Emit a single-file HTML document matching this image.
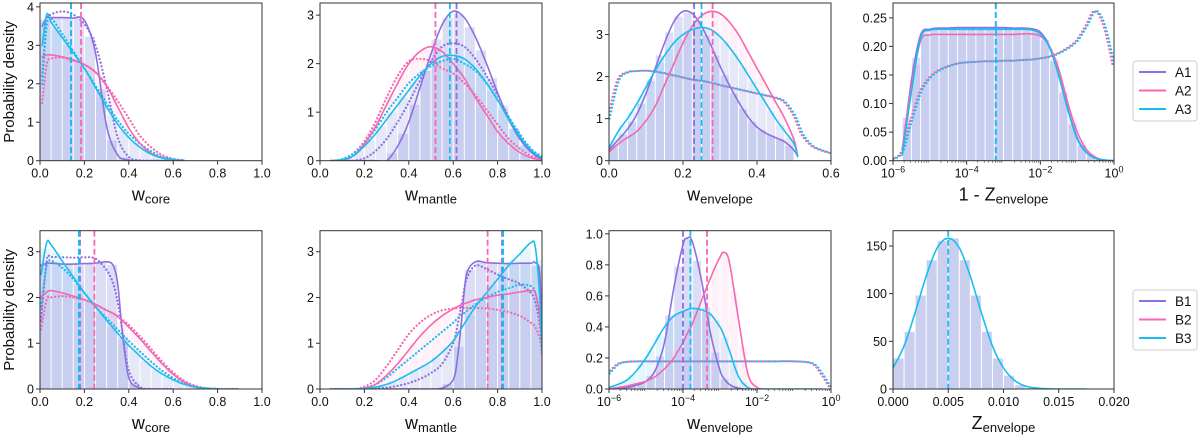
<!DOCTYPE html>
<html><head><meta charset="utf-8"><style>
body{margin:0;background:#fff}
svg{display:block;font-family:"Liberation Sans","DejaVu Sans",sans-serif}
</style></head><body>
<svg id="chart" width="1200" height="437" viewBox="0 0 1200 437" xmlns="http://www.w3.org/2000/svg"></svg>
<script>
const C1='#8f6fe0', C2='#f766b0', C3='#17bef0';
// ---- top row panel 1: w_core
const p1x=[0.01,0.03,0.05,0.1,0.15,0.2,0.25,0.3,0.35,0.4,0.45,0.5,0.55,0.6,0.65];
const p1A1=[3.5,3.72,3.72,3.72,3.71,3.65,2.8,0.9,0.15,0.02,0,0,0,0,0];
const p1A1d=[2.2,3.6,3.8,3.88,3.8,3.55,3.0,1.9,0.6,0.1,0.01,0,0,0,0];
const p1A2=[2.7,2.75,2.75,2.7,2.62,2.5,2.3,1.95,1.4,0.85,0.45,0.2,0.08,0.02,0];
const p1A2d=[1.5,2.5,2.65,2.68,2.6,2.5,2.3,1.95,1.55,1.1,0.65,0.35,0.15,0.05,0.01];
const p1A3=[3.0,3.8,3.6,3.2,2.8,2.4,1.9,1.4,0.95,0.6,0.35,0.17,0.07,0.02,0];
const p1A3d=[2.0,3.5,3.7,3.3,2.85,2.4,1.95,1.5,1.05,0.7,0.45,0.25,0.1,0.04,0.01];
const p1Mean=[0.14,0.185,0.14];
// ---- top row panel 2: w_mantle
const p2x=[0.05,0.1,0.15,0.2,0.25,0.3,0.35,0.4,0.45,0.5,0.55,0.6,0.65,0.7,0.75,0.8,0.85,0.9,0.95,1.0];
const p2A1=[0,0,0,0,0,0,0.3,0.8,1.5,2.2,2.8,3.08,2.95,2.55,2.0,1.4,0.85,0.45,0.18,0.02];
const p2A1d=[0,0,0,0.05,0.2,0.45,0.8,1.2,1.65,2.05,2.35,2.42,2.35,2.1,1.75,1.35,0.9,0.5,0.2,0.05];
const p2A2=[0,0,0.1,0.35,0.7,1.15,1.6,2.0,2.25,2.35,2.25,2.0,1.7,1.3,0.95,0.6,0.35,0.17,0.06,0.01];
const p2A2d=[0,0.03,0.15,0.4,0.8,1.3,1.75,2.05,2.1,2.05,1.9,1.8,1.6,1.35,1.05,0.75,0.45,0.25,0.1,0.03];
const p2A3=[0,0.02,0.1,0.3,0.55,0.85,1.15,1.45,1.75,2.0,2.15,2.17,2.1,1.9,1.6,1.25,0.85,0.5,0.22,0.05];
const p2A3d=[0,0.03,0.15,0.35,0.65,1.0,1.3,1.6,1.8,1.95,2.05,2.1,2.0,1.85,1.6,1.25,0.9,0.55,0.25,0.08];
const p2Mean=[0.615,0.52,0.585];
// ---- top row panel 3: w_envelope
const p3x=[0,0.025,0.05,0.075,0.1,0.125,0.15,0.175,0.2,0.225,0.25,0.275,0.3,0.325,0.35,0.375,0.4,0.425,0.45,0.475,0.5,0.51,0.525,0.55,0.575,0.6];
const p3A1=[0.25,0.5,0.75,1.1,1.6,2.2,2.8,3.3,3.55,3.5,3.2,2.75,2.25,1.8,1.4,1.05,0.8,0.65,0.55,0.45,0.25,0.1,null,null,null,null];
const p3A2=[0.2,0.4,0.55,0.7,0.95,1.3,1.8,2.3,2.8,3.2,3.45,3.55,3.5,3.3,3.0,2.6,2.2,1.8,1.4,1.0,0.5,0.1,null,null,null,null];
const p3A3=[0.3,0.7,1.0,1.35,1.75,2.15,2.5,2.8,3.0,3.12,3.17,3.12,2.95,2.7,2.4,2.05,1.7,1.35,1.0,0.7,0.4,0.1,null,null,null,null];
const p3Prior=[1.0,1.9,2.1,2.13,2.14,2.12,2.08,2.03,1.98,1.93,1.9,1.86,1.8,1.75,1.7,1.65,1.6,1.55,1.5,1.4,1.1,0.9,0.6,0.35,0.25,0.18];
const p3Mean=[0.23,0.28,0.25];
// ---- top row panel 4: 1 - Z_envelope (log10 x)
const p4x=[-6,-5.75,-5.5,-5.25,-5,-4.75,-4.5,-4.25,-4,-3.75,-3.5,-3.25,-3,-2.75,-2.5,-2.25,-2,-1.75,-1.5,-1.25,-1,-0.75,-0.5,-0.25,0];
const p4A1=[null,0.01,0.14,0.22,0.23,0.232,0.232,0.233,0.233,0.233,0.233,0.233,0.233,0.232,0.232,0.231,0.225,0.2,0.15,0.09,0.04,0.015,0.004,0.001,0];
const p4A2=[null,0.02,0.13,0.21,0.22,0.221,0.221,0.221,0.221,0.221,0.221,0.221,0.221,0.221,0.222,0.222,0.218,0.2,0.16,0.1,0.05,0.02,0.006,0.001,0];
const p4A3=[null,0.01,0.12,0.215,0.228,0.23,0.23,0.23,0.23,0.23,0.23,0.23,0.23,0.23,0.23,0.229,0.222,0.198,0.148,0.088,0.038,0.014,0.004,0.001,0];
const p4Prior=[0.003,0.015,0.07,0.12,0.145,0.158,0.165,0.17,0.172,0.173,0.174,0.174,0.175,0.175,0.176,0.177,0.179,0.182,0.188,0.197,0.21,0.235,0.262,0.235,0.165];
const p4Mean=[-3.21,-3.21,-3.21];
// ---- bottom row panel 1: w_core
const q1x=[0.005,0.03,0.05,0.1,0.15,0.2,0.25,0.3,0.33,0.35,0.37,0.4,0.45,0.5,0.55,0.6,0.65,0.7,0.75,0.8,0.85,0.9];
const q1B1=[2.7,2.75,2.75,2.73,2.73,2.74,2.75,2.78,2.7,2.3,1.3,0.25,0.02,0,0,0,null,null,null,null,null,null];
const q1B1d=[1.5,2.8,2.88,2.88,2.87,2.88,2.85,2.6,2.3,1.9,1.3,0.4,0.05,0,0,0,null,null,null,null,null,null];
const q1B2=[2.0,2.12,2.15,2.1,2.03,1.95,1.85,1.72,1.65,1.58,1.5,1.35,1.1,0.82,0.55,0.32,0.15,0.05,0.01,0,null,null];
const q1B2d=[1.3,1.95,2.0,2.03,2.0,1.95,1.85,1.72,1.65,1.6,1.52,1.4,1.15,0.88,0.6,0.36,0.18,0.07,0.02,0.005,0,0];
const q1B3=[2.5,3.2,3.15,2.8,2.45,2.1,1.8,1.5,1.33,1.22,1.1,0.95,0.72,0.5,0.33,0.2,0.1,0.04,0.01,0,null,null];
const q1B3d=[1.8,2.7,2.8,2.65,2.4,2.1,1.8,1.55,1.4,1.3,1.2,1.05,0.82,0.6,0.4,0.24,0.12,0.05,0.015,0.003,0,0];
const q1Mean=[0.18,0.245,0.175];
// ---- bottom row panel 2: w_mantle
const q2x=[0.05,0.1,0.15,0.2,0.25,0.3,0.35,0.4,0.45,0.5,0.55,0.6,0.62,0.64,0.66,0.7,0.75,0.8,0.85,0.9,0.95,0.97,0.99,1.0];
const q2B1=[0,0,0,0,0,0,0,0,0,0,0.02,0.2,0.7,1.6,2.5,2.78,2.76,2.75,2.74,2.75,2.75,2.76,2.5,0.9];
const q2B1d=[0,0,0,0,0.01,0.03,0.07,0.13,0.22,0.35,0.55,1.0,1.4,1.9,2.4,2.7,2.62,2.5,2.4,2.3,2.1,1.9,1.4,0.9];
const q2B2=[0,0,0,0.02,0.1,0.3,0.55,0.85,1.15,1.4,1.6,1.75,1.8,1.85,1.88,1.95,2.0,2.05,2.08,2.12,2.15,2.1,1.6,1.0];
const q2B2d=[0,0,0,0.05,0.2,0.5,0.85,1.2,1.45,1.62,1.72,1.76,1.77,1.77,1.77,1.77,1.76,1.73,1.68,1.6,1.45,1.35,1.1,0.75];
const q2B3=[0,0,0,0.01,0.04,0.1,0.2,0.33,0.46,0.6,0.8,1.05,1.2,1.35,1.5,1.8,2.1,2.4,2.7,2.95,3.2,3.1,2.0,0.8];
const q2B3d=[0,0,0,0.02,0.1,0.25,0.45,0.65,0.85,1.05,1.25,1.45,1.55,1.62,1.7,1.85,2.0,2.12,2.2,2.28,2.25,2.1,1.6,1.0];
const q2Mean=[0.82,0.755,0.825];
// ---- bottom row panel 3: w_envelope (log10 x)
const q3x=[-6,-5.75,-5.5,-5.25,-5,-4.75,-4.5,-4.25,-4,-3.9,-3.75,-3.5,-3.25,-3,-2.9,-2.75,-2.5,-2.25,-2,-1.75,-1.5,-1,-0.5,-0.25,0];
const q3B1=[0,0.003,0.01,0.025,0.05,0.12,0.3,0.65,0.93,0.97,0.95,0.7,0.35,0.12,0.07,0.03,0.005,0,null,null,null,null,null,null,null];
const q3B2=[0,0.01,0.02,0.035,0.05,0.08,0.13,0.2,0.3,0.35,0.42,0.57,0.72,0.85,0.88,0.82,0.45,0.1,0.01,0,null,null,null,null,null];
const q3B3=[0.01,0.03,0.06,0.12,0.2,0.3,0.4,0.47,0.5,0.51,0.52,0.51,0.48,0.4,0.35,0.25,0.08,0.01,0,0,0,0,0,0,null];
const q3Prior=[0.1,0.16,0.175,0.178,0.178,0.178,0.178,0.178,0.178,0.178,0.178,0.178,0.178,0.178,0.178,0.178,0.178,0.178,0.178,0.178,0.178,0.178,0.165,0.1,0.005];
const q3Mean=[-4.0,-3.35,-3.8];
// ---- bottom row panel 4: Z_envelope
const q4x=[0,0.001,0.002,0.003,0.004,0.005,0.006,0.007,0.008,0.009,0.010,0.011,0.012,0.013,0.014,0.015,0.0175];
const q4B=[22,45,80,118,148,158,148,118,80,45,22,9,3,1,0.2,0,0];
const q4Hist=[32,60,98,135,155,158,135,98,60,32,14,4,1,0.3,0,0,0,0,0,0];
const q4Mean=[0.005];

const svg=document.getElementById('chart');
const NS='http://www.w3.org/2000/svg';
function mk(tag,attrs,parent){const e=document.createElementNS(NS,tag);for(const k in attrs)e.setAttribute(k,attrs[k]);(parent||svg).appendChild(e);return e;}

function smoothPath(pts){
  if(pts.length<2)return '';
  let d='M'+pts[0][0].toFixed(1)+' '+pts[0][1].toFixed(1);
  for(let i=0;i<pts.length-1;i++){
    const p0=pts[i-1]||pts[i],p1=pts[i],p2=pts[i+1],p3=pts[i+2]||pts[i+1];
    const t=1/6;
    const c1=[p1[0]+(p2[0]-p0[0])*t,p1[1]+(p2[1]-p0[1])*t];
    const c2=[p2[0]-(p3[0]-p1[0])*t,p2[1]-(p3[1]-p1[1])*t];
    d+='C'+c1[0].toFixed(1)+' '+c1[1].toFixed(1)+' '+c2[0].toFixed(1)+' '+c2[1].toFixed(1)+' '+p2[0].toFixed(1)+' '+p2[1].toFixed(1);
  }
  return d;
}

function panel(cfg){
  const g=mk('g',{});
  
  
  const L=cfg.L,R=cfg.R,T=cfg.T,B=cfg.B;
  const sx=v=>L+(v-cfg.xmin)/(cfg.xmax-cfg.xmin)*(R-L);
  const sy=v=>B-(v-cfg.ymin)/(cfg.ymax-cfg.ymin)*(B-T);
  const clipId='clip'+cfg.name;
  const cp=mk('clipPath',{id:clipId},g);mk('rect',{x:L,y:T,width:R-L,height:B-T},cp);
  const body=mk('g',{'clip-path':'url(#'+clipId+')'},g);
  const interp=(xs,ys,x)=>{for(let i=0;i<xs.length-1;i++){if(x>=xs[i]&&x<=xs[i+1]){const a=ys[i],b=ys[i+1];if(a==null||b==null)return 0;return a+(b-a)*(x-xs[i])/(xs[i+1]-xs[i]);}}return 0;};
  const hc=['rgba(105,115,215,0.24)','rgba(255,120,190,0.10)','rgba(70,180,240,0.14)'];
  (cfg.hist||[]).forEach((h,si)=>{
    for(let b=cfg.xmin;b<cfg.xmax-1e-9;b+=cfg.bin){
      const v=h.explicit?h.explicit[Math.round((b-cfg.xmin)/cfg.bin)]:interp(cfg.x,h.ys,b+cfg.bin/2);
      if(!v||v<=0)continue;
      const r=mk('rect',{x:sx(b)+0.5,y:sy(v),width:Math.max(0,sx(b+cfg.bin)-sx(b)-1),height:B-sy(v),fill:h.explicit?'rgba(150,160,225,0.5)':hc[si%3]},body);
      
      
    }
  });
  const line=(ys,color,dotted,nm,off)=>{
    let segs=[],cur=[];
    cfg.x.forEach((x,i)=>{const v=ys[i];if(v==null){if(cur.length)segs.push(cur);cur=[];return;}cur.push([sx(x)+(off||0),sy(v)]);});
    if(cur.length)segs.push(cur);
    const d=segs.map(smoothPath).join('');
    const p=mk('path',{d:d,fill:'none',stroke:color,'stroke-width':dotted?2.2:1.6,'stroke-linecap':'round','stroke-linejoin':'round'},body);
    if(dotted)p.setAttribute('stroke-dasharray','0.1 3.6');
    
    
  };
  (cfg.dotted||[]).forEach(s=>line(s.ys,s.c,true,s.n,s.off));
  (cfg.solid||[]).forEach(s=>line(s.ys,s.c,false,s.n));
  (cfg.means||[]).forEach(m=>{
    const l=mk('line',{x1:sx(m.v),x2:sx(m.v),y1:T,y2:B,stroke:m.c,'stroke-width':1.8,'stroke-dasharray':'6 3'},body);
    
    
  });
  mk('rect',{x:L,y:T,width:R-L,height:B-T,fill:'none',stroke:'#333','stroke-width':1},g);
  cfg.xt.forEach((t,i)=>{
    const X=sx(t);
    mk('line',{x1:X,x2:X,y1:B,y2:B+4,stroke:'#333'},g);
    const tx=mk('text',{x:X,y:B+17,'text-anchor':'middle','font-size':12.5,fill:'#111'},g);
    
    
    if(cfg.log){tx.textContent='10';const s=mk('tspan',{dy:-5,'font-size':9},tx);s.textContent=(t<0?'\u2212':'')+Math.abs(t);}
    else tx.textContent=cfg.xl[i];
  });
  if(cfg.log){for(let d=cfg.xmin;d<cfg.xmax;d++)for(let k=2;k<10;k++){const X=sx(d+Math.log10(k));mk('line',{x1:X,x2:X,y1:B,y2:B+2,stroke:'#333','stroke-width':0.6},g);}}
  cfg.yt.forEach((t,i)=>{
    const Y=sy(t);
    mk('line',{x1:L-4,x2:L,y1:Y,y2:Y,stroke:'#333'},g);
    const ty=mk('text',{x:L-6,y:Y+4.5,'text-anchor':'end','font-size':12.5,fill:'#111'},g);
    ty.textContent=cfg.yl[i];
    
    
  });
  const xl=mk('text',{x:(L+R)/2,y:B+40,'text-anchor':'middle','font-size':18,fill:'#111'},g);
  
  
  const a=mk('tspan',{},xl);a.textContent=cfg.xlabel[0];
  const b=mk('tspan',{'font-size':13,dy:3},xl);b.textContent=cfg.xlabel[1];
}
const T1=3,B1=160.7,T2=230.7,B2=389;
const X=[[40,262],[320,542],[609,831],[893,1114]];
const fmt1=a=>a.map(v=>v.toFixed(1));
panel({name:'panel-a-core',L:X[0][0],R:X[0][1],T:T1,B:B1,xmin:0,xmax:1,ymin:0,ymax:4.1,bin:0.05,x:p1x,
 hist:[{ys:p1A1},{ys:p1A2},{ys:p1A3}],
 dotted:[{ys:p1A1d,c:C1,n:'a1-prior'},{ys:p1A2d,c:C2,n:'a2-prior'},{ys:p1A3d,c:C3,n:'a3-prior'}],
 solid:[{ys:p1A1,c:C1,n:'a1-posterior'},{ys:p1A2,c:C2,n:'a2-posterior'},{ys:p1A3,c:C3,n:'a3-posterior'}],
 means:[{v:p1Mean[0],c:C1},{v:p1Mean[2],c:C3},{v:p1Mean[1],c:C2}],
 xt:[0,0.2,0.4,0.6,0.8,1],xl:fmt1([0,0.2,0.4,0.6,0.8,1]),yt:[0,1,2,3,4],yl:['0','1','2','3','4'],xlabel:['w','core']});
panel({name:'panel-a-mantle',L:X[1][0],R:X[1][1],T:T1,B:B1,xmin:0,xmax:1,ymin:0,ymax:3.25,bin:0.05,x:p2x,
 hist:[{ys:p2A1},{ys:p2A2},{ys:p2A3}],
 dotted:[{ys:p2A1d,c:C1,n:'a1-prior'},{ys:p2A2d,c:C2,n:'a2-prior'},{ys:p2A3d,c:C3,n:'a3-prior'}],
 solid:[{ys:p2A1,c:C1,n:'a1-posterior'},{ys:p2A2,c:C2,n:'a2-posterior'},{ys:p2A3,c:C3,n:'a3-posterior'}],
 means:[{v:p2Mean[0],c:C1},{v:p2Mean[1],c:C2},{v:p2Mean[2],c:C3}],
 xt:[0,0.2,0.4,0.6,0.8,1],xl:fmt1([0,0.2,0.4,0.6,0.8,1]),yt:[0,1,2,3],yl:['0','1','2','3'],xlabel:['w','mantle']});
panel({name:'panel-a-envelope',L:X[2][0],R:X[2][1],T:T1,B:B1,xmin:0,xmax:0.6,ymin:0,ymax:3.75,bin:0.025,x:p3x,
 hist:[{ys:p3A1},{ys:p3A2},{ys:p3A3}],
 dotted:[{ys:p3Prior,c:C2,n:'a2-prior',off:-1.2},{ys:p3Prior,c:C3,n:'a3-prior',off:0.6}],
 solid:[{ys:p3A1,c:C1,n:'a1-posterior'},{ys:p3A2,c:C2,n:'a2-posterior'},{ys:p3A3,c:C3,n:'a3-posterior'}],
 means:[{v:p3Mean[0],c:C1},{v:p3Mean[1],c:C2},{v:p3Mean[2],c:C3}],
 xt:[0,0.2,0.4,0.6],xl:fmt1([0,0.2,0.4,0.6]),yt:[0,1,2,3],yl:['0','1','2','3'],xlabel:['w','envelope']});
panel({name:'panel-a-z-envelope',log:true,L:X[3][0],R:X[3][1],T:T1,B:B1,xmin:-6,xmax:0,ymin:0,ymax:0.276,bin:0.25,x:p4x,
 hist:[{ys:p4A1},{ys:p4A2},{ys:p4A3}],
 dotted:[{ys:p4Prior,c:C2,n:'a2-prior',off:-1.2},{ys:p4Prior,c:C3,n:'a3-prior',off:0.6}],
 solid:[{ys:p4A1,c:C1,n:'a1-posterior'},{ys:p4A2,c:C2,n:'a2-posterior'},{ys:p4A3,c:C3,n:'a3-posterior'}],
 means:[{v:p4Mean[0],c:C1},{v:p4Mean[2],c:C3}],
 xt:[-6,-4,-2,0],yt:[0,0.05,0.1,0.15,0.2,0.25],yl:['0.00','0.05','0.10','0.15','0.20','0.25'],xlabel:['1 - Z','envelope']});
panel({name:'panel-b-core',L:X[0][0],R:X[0][1],T:T2,B:B2,xmin:0,xmax:1,ymin:0,ymax:3.46,bin:0.05,x:q1x,
 hist:[{ys:q1B1},{ys:q1B2},{ys:q1B3}],
 dotted:[{ys:q1B1d,c:C1,n:'b1-prior'},{ys:q1B2d,c:C2,n:'b2-prior'},{ys:q1B3d,c:C3,n:'b3-prior'}],
 solid:[{ys:q1B1,c:C1,n:'b1-posterior'},{ys:q1B2,c:C2,n:'b2-posterior'},{ys:q1B3,c:C3,n:'b3-posterior'}],
 means:[{v:q1Mean[0],c:C1},{v:q1Mean[2],c:C3},{v:q1Mean[1],c:C2}],
 xt:[0,0.2,0.4,0.6,0.8,1],xl:fmt1([0,0.2,0.4,0.6,0.8,1]),yt:[0,1,2,3],yl:['0','1','2','3'],xlabel:['w','core']});
panel({name:'panel-b-mantle',L:X[1][0],R:X[1][1],T:T2,B:B2,xmin:0,xmax:1,ymin:0,ymax:3.46,bin:0.05,x:q2x,
 hist:[{ys:q2B1},{ys:q2B2},{ys:q2B3}],
 dotted:[{ys:q2B1d,c:C1,n:'b1-prior'},{ys:q2B2d,c:C2,n:'b2-prior'},{ys:q2B3d,c:C3,n:'b3-prior'}],
 solid:[{ys:q2B1,c:C1,n:'b1-posterior'},{ys:q2B2,c:C2,n:'b2-posterior'},{ys:q2B3,c:C3,n:'b3-posterior'}],
 means:[{v:q2Mean[0],c:C1},{v:q2Mean[1],c:C2},{v:q2Mean[2],c:C3}],
 xt:[0,0.2,0.4,0.6,0.8,1],xl:fmt1([0,0.2,0.4,0.6,0.8,1]),yt:[0,1,2,3],yl:['0','1','2','3'],xlabel:['w','mantle']});
panel({name:'panel-b-envelope',log:true,L:X[2][0],R:X[2][1],T:T2,B:B2,xmin:-6,xmax:0,ymin:0,ymax:1.02,bin:0.25,x:q3x,
 hist:[{ys:q3B1},{ys:q3B2},{ys:q3B3}],
 dotted:[{ys:q3Prior,c:C2,n:'b2-prior',off:-1.2},{ys:q3Prior,c:C3,n:'b3-prior',off:0.6}],
 solid:[{ys:q3B1,c:C1,n:'b1-posterior'},{ys:q3B2,c:C2,n:'b2-posterior'},{ys:q3B3,c:C3,n:'b3-posterior'}],
 means:[{v:q3Mean[0],c:C1},{v:q3Mean[1],c:C2},{v:q3Mean[2],c:C3}],
 xt:[-6,-4,-2,0],yt:[0,0.2,0.4,0.6,0.8,1],yl:fmt1([0,0.2,0.4,0.6,0.8,1]),xlabel:['w','envelope']});
panel({name:'panel-b-z-envelope',L:X[3][0],R:X[3][1],T:T2,B:B2,xmin:0,xmax:0.02,ymin:0,ymax:166,bin:0.001,x:q4x,
 hist:[{explicit:q4Hist}],
 solid:[{ys:q4B,c:C3,n:'b3-posterior'}],
 means:[{v:q4Mean[0],c:C3}],
 xt:[0,0.005,0.01,0.015,0.02],xl:['0.000','0.005','0.010','0.015','0.020'],yt:[0,50,100,150],yl:['0','50','100','150'],xlabel:['Z','envelope']});

[[(T1+B1)/2],[(T2+B2)/2]].forEach(([cy])=>{
  const t=mk('text',{x:0,y:0,transform:'translate(14,'+cy+') rotate(-90)','text-anchor':'middle','font-size':15,fill:'#111'});
  t.textContent='Probability density';
  
  
});
function legend(y0,labels,nm){
  const g=mk('g',{});
  
  
  mk('rect',{x:1133,y:y0,width:64,height:60,rx:3,fill:'#fff',stroke:'#ccc'},g);
  labels.forEach((lb,i)=>{
    const y=y0+11+i*18.5;
    const e=mk('g',{},g);
    
    
    mk('line',{x1:1139,x2:1166,y1:y,y2:y,stroke:[C1,C2,C3][i],'stroke-width':2},e);
    const t=mk('text',{x:1175,y:y+5,'font-size':13.5,fill:'#111'},e);t.textContent=lb;
  });
}
legend(61,['A1','A2','A3'],'legend-a');
legend(290,['B1','B2','B3'],'legend-b');
</script>
</body></html>
